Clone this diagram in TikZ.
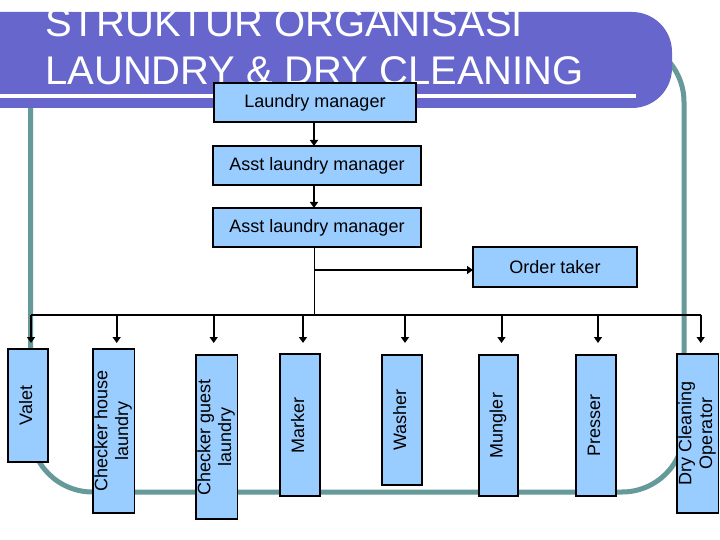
\documentclass[tikz,border=0pt]{standalone}
\usepackage{fontspec}
\setmainfont{Liberation Sans}
\usetikzlibrary{arrows.meta}
\definecolor{bannerpurple}{HTML}{6666CC}
\definecolor{boxblue}{HTML}{99CCFF}
\definecolor{frameteal}{HTML}{669999}
\tikzset{
  box/.style={draw=black, line width=1.2pt, fill=boxblue, inner sep=0pt, outer sep=0pt, anchor=north west, align=center, font=\fontsize{18pt}{20.7pt}\selectfont},
  arr/.style={line width=2pt, -{Triangle[length=6pt,width=8pt]}},
  thinline/.style={line width=1.2pt},
  titletext/.style={text=white, anchor=base west, inner sep=0pt, font=\fontsize{40pt}{48pt}\selectfont},
}
\newcommand{\vtext}[1]{\rotatebox{90}{\begin{tabular}{@{}c@{}}#1\end{tabular}}}
\begin{document}
\begin{tikzpicture}[x=1pt,y=-1pt]
\useasboundingbox (0,0) rectangle (720,540);
\fill[white] (0,0) rectangle (720,540);
% teal frame
\draw[frameteal, line width=5pt, rounded corners=62] (30.5,40) rectangle (684,492);
% banner
\fill[bannerpurple] (0,12) [rounded corners=40] -- (672,12) -- (672,108) [sharp corners] -- (0,108) -- cycle;
\draw[white, line width=4pt] (0,96) -- (636,96);
\node[titletext] (title1) at (45,37) {STRUKTUR ORGANISASI};
\node[titletext] (title2) at (45,85) {LAUNDRY \& DRY CLEANING};
% top boxes
\node[box, minimum width=202pt, minimum height=39pt] (lm) at (214,83) {Laundry manager};
\node[box, minimum width=208pt, minimum height=39pt] (a1) at (213,146) {Asst laundry manager};
\node[box, minimum width=208pt, minimum height=39pt] (a2) at (213,208) {Asst laundry manager};
\node[box, minimum width=164pt, minimum height=40pt] (ot) at (473,247) {Order taker};
% bottom boxes
\node[box, minimum width=40pt, minimum height=113pt] (valet) at (8,349) {\vtext{Valet}};
\node[box, minimum width=40pt, minimum height=164pt] (chl) at (93,349) {\vtext{Checker house\\laundry}};
\node[box, minimum width=39pt, minimum height=164pt] (cgl) at (196,355) {\vtext{Checker guest\\laundry}};
\node[box, minimum width=40pt, minimum height=142pt] (marker) at (280,354) {\vtext{Marker}};
\node[box, minimum width=40pt, minimum height=130pt] (washer) at (382,355) {\vtext{Washer}};
\node[box, minimum width=39pt, minimum height=141pt] (mungler) at (479,355) {\vtext{Mungler}};
\node[box, minimum width=40pt, minimum height=141pt] (presser) at (576,355) {\vtext{Presser}};
\node[box, minimum width=40pt, minimum height=159pt] (dco) at (677,354) {\vtext{Dry Cleaning\\Operator}};
% connectors
\coordinate (bus) at (0,315);
\coordinate (tips) at (0,343);
\draw[arr] ([xshift=-1pt]lm.south) -- ([xshift=-1pt]lm.south |- a1.north);
\draw[arr] ([xshift=-1pt]lm.south |- a1.south) -- ([xshift=-1pt]lm.south |- a2.north);
\draw[line width=1pt] ([xshift=-1pt]lm.south |- a2.south) -- ([xshift=-1pt]lm.south |- bus);
\draw[arr] ([xshift=-1pt,yshift=-3pt]lm.south |- ot.west) -- ([yshift=-3pt]ot.west);
\draw[thinline] ([xshift=3pt]valet.north |- bus) -- ([xshift=3pt]dco.north |- bus);
\draw[arr] ([xshift=3pt]valet.north |- bus) -- ([xshift=3pt]valet.north |- tips);
\draw[arr] ([xshift=3pt]chl.north |- bus) -- ([xshift=3pt]chl.north |- tips);
\draw[arr] ([xshift=-3pt]cgl.north |- bus) -- ([xshift=-3pt]cgl.north |- tips);
\draw[arr] ([xshift=3pt]marker.north |- bus) -- ([xshift=3pt]marker.north |- tips);
\draw[arr] ([xshift=3pt]washer.north |- bus) -- ([xshift=3pt]washer.north |- tips);
\draw[arr] ([xshift=3pt]mungler.north |- bus) -- ([xshift=3pt]mungler.north |- tips);
\draw[arr] ([xshift=2pt]presser.north |- bus) -- ([xshift=2pt]presser.north |- tips);
\draw[arr] ([xshift=3pt]dco.north |- bus) -- ([xshift=3pt]dco.north |- tips);
\end{tikzpicture}
\end{document}
